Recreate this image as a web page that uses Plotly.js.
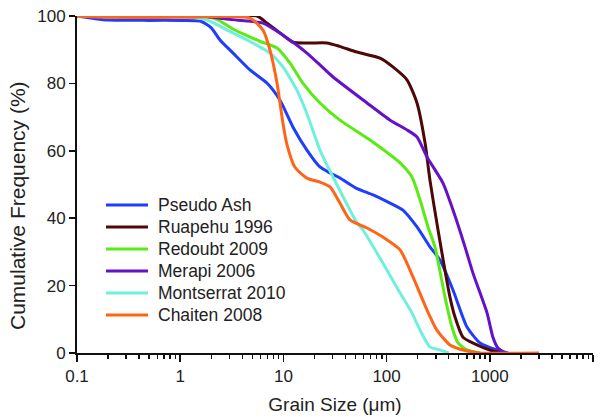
<!DOCTYPE html>
<html>
<head>
<meta charset="utf-8">
<script src="https://cdn.plot.ly/plotly-3.0.1.min.js"></script>
<style>html,body{margin:0;padding:0;background:#fff;}#chart{width:616px;height:417px;}</style>
</head>
<body>
<div id="chart"></div>
<script>
// Series names
const seriesNames = ["Pseudo Ash", "Ruapehu 1996", "Redoubt 2009", "Merapi 2006", "Montserrat 2010", "Chaiten 2008"];

// Grain size (µm) and cumulative frequency (%) for each series
const pseudoAshX = [0.1, 0.15, 0.2, 0.5, 1.0, 1.56, 2.0, 2.43, 3.25, 4.74, 6.93, 9.27, 12.4, 16.9, 22.6, 28.3, 35, 50, 74, 100, 144, 197, 263, 329, 440, 601, 803, 1175, 1500];
const pseudoAshY = [100, 99.2, 98.8, 98.7, 98.7, 98.5, 96.5, 92.9, 89, 84, 80.1, 75, 67, 60.2, 55.2, 53.4, 52, 49, 46.9, 45, 42.4, 37.4, 31.5, 27.6, 18.7, 7.7, 3.0, 0.9, 0];

const ruapehuX = [0.1, 1, 3, 5.55, 7, 9.27, 12.4, 18, 26.4, 35, 51.6, 86.3, 115, 158, 197, 236, 263, 315, 411, 460, 550, 751, 1000, 1300];
const ruapehuY = [100, 100, 100, 100, 97.8, 95, 92.2, 92, 92, 91, 89.3, 87.5, 84.9, 81, 74.2, 62.3, 51.3, 36.5, 16.6, 10.7, 4.7, 2.4, 0.9, 0];

const redoubtX = [0.1, 1, 1.8, 2.27, 3.3, 4.43, 5.93, 8.67, 11.6, 15.5, 22.6, 35.3, 69, 135, 176, 211, 252, 294, 368, 430, 492, 601, 800];
const redoubtY = [100, 100, 99.8, 99, 96, 94.2, 92.5, 90.5, 86, 80, 74.2, 69.1, 63.2, 56.4, 52.2, 45.4, 37.4, 31.5, 16.6, 7.7, 3.0, 0.9, 0];

const merapiX = [0.1, 1, 1.8, 3, 4.5, 6.34, 8.67, 12.4, 16.9, 22.6, 30.3, 64.6, 108, 158, 197, 246, 352, 440, 575, 687, 940, 1072, 1200, 1400];
const merapiY = [100, 100, 99.8, 99, 98.5, 97.9, 95.5, 92.2, 89, 85.5, 81.9, 74.2, 69.1, 66.2, 64.1, 58.2, 50.4, 42.4, 31.5, 23.7, 11.9, 4.7, 1.5, 0];

const montserratX = [0.1, 1, 1.82, 3.0, 4.43, 7.41, 9.9, 13.5, 16.9, 22.6, 30.3, 51.6, 59, 92, 135, 176, 211, 263, 329, 400];
const montserratY = [100, 100, 98.8, 95.5, 92.9, 89, 84.9, 78, 71, 60.2, 52.2, 38.6, 36.5, 26.7, 17.8, 11.9, 6.8, 1.8, 0.9, 0];

const chaitenX = [0.1, 0.2, 1, 4.74, 6.34, 7.41, 8.67, 9.9, 10.8, 12.9, 16.9, 22.6, 28.3, 35.3, 44.1, 64.6, 92, 135, 180, 246, 307, 411, 550, 800, 3000];
const chaitenY = [100, 99.6, 99.6, 99.4, 95.8, 89.9, 80.1, 68.2, 62, 55.2, 51.9, 50.7, 49.3, 44.5, 39.5, 37.1, 34.4, 30.6, 22.6, 12.8, 6.8, 2.4, 0.9, 0, 0];

// Axis tick labels and titles
const xTickVals = [0.1, 1, 10, 100, 1000, 10000];
const xTickText = ["0.1", "1", "10", "100", "1000", "10000"];
const yTickVals = [0, 20, 40, 60, 80, 100];
const xTitle = "Grain Size (μm)";
const yTitle = "Cumulative Frequency (%)";

const colors = ["#1f3dff", "#4d0808", "#5aea14", "#6411c9", "#6ff0dc", "#ff6418"];
const xs = [pseudoAshX, ruapehuX, redoubtX, merapiX, montserratX, chaitenX];
const ys = [pseudoAshY, ruapehuY, redoubtY, merapiY, montserratY, chaitenY];

const traces = seriesNames.map((name, i) => ({
  type: "scatter",
  mode: "lines",
  name: name,
  x: xs[i],
  y: ys[i],
  line: {color: colors[i], width: 3, shape: "spline", smoothing: 0.6},
  hoverinfo: "skip",
  showlegend: false
}));

// minor tick positions for log axis
const minorVals = [];
for (let e = -1; e < 4; e++) {
  for (let d = 2; d <= 9; d++) minorVals.push(d * Math.pow(10, e));
}

const W = 616, H = 417;
const M = {l: 77, r: 23, t: 16, b: 64};
const plotW = W - M.l - M.r, plotH = H - M.t - M.b;
const px2paperX = p => (p - M.l) / plotW;
const px2paperY = p => (H - M.b - p) / plotH;

const family = "Arial, 'Liberation Sans', sans-serif";
const textColor = "#222";

// Hand-built legend (line sample + label) to match the reference spacing
const legendTop = 205, legendStep = 22, sampleX0 = 106, sampleX1 = 148, labelX = 156;
const shapes = [];
const annotations = [];
seriesNames.forEach((name, i) => {
  const yy = px2paperY(legendTop + i * legendStep);
  shapes.push({type: "line", xref: "paper", yref: "paper",
    x0: px2paperX(sampleX0), x1: px2paperX(sampleX1), y0: yy, y1: yy,
    line: {color: colors[i], width: 3}});
  annotations.push({xref: "paper", yref: "paper", x: px2paperX(labelX), y: yy,
    xanchor: "left", yanchor: "middle", showarrow: false, text: name,
    font: {family: family, size: 17.5, color: textColor}});
});
// Y axis title (placed lower than plot centre, as in the reference)
annotations.push({xref: "paper", yref: "paper", x: px2paperX(18), y: px2paperY(206),
  xanchor: "center", yanchor: "middle", showarrow: false, textangle: -90, text: yTitle,
  font: {family: family, size: 21, color: textColor}});

const layout = {
  width: W,
  height: H,
  margin: M,
  paper_bgcolor: "#fff",
  plot_bgcolor: "#fff",
  font: {family: family, size: 17, color: textColor},
  showlegend: false,
  shapes: shapes,
  annotations: annotations,
  xaxis: {
    type: "log",
    range: [-1, 4],
    tickmode: "array",
    tickvals: xTickVals,
    ticktext: xTickText,
    ticks: "outside",
    ticklen: 7,
    tickwidth: 1.5,
    tickcolor: "#111",
    showline: true,
    linecolor: "#111",
    linewidth: 2,
    showgrid: false,
    zeroline: false,
    minor: {tickmode: "array", tickvals: minorVals, ticks: "outside", ticklen: 4, tickwidth: 1.5, tickcolor: "#111", showgrid: false},
    title: {text: xTitle, font: {family: family, size: 19, color: textColor}, standoff: 12},
    tickfont: {family: family, size: 17, color: textColor}
  },
  yaxis: {
    range: [0, 100],
    tickmode: "array",
    tickvals: yTickVals,
    ticks: "outside",
    ticklen: 6,
    tickwidth: 1.5,
    tickcolor: "#111",
    showline: true,
    linecolor: "#111",
    linewidth: 2,
    showgrid: false,
    zeroline: false,
    tickfont: {family: family, size: 17, color: textColor}
  }
};

Plotly.newPlot("chart", traces, layout, {displayModeBar: false, staticPlot: true});
</script>
</body>
</html>
